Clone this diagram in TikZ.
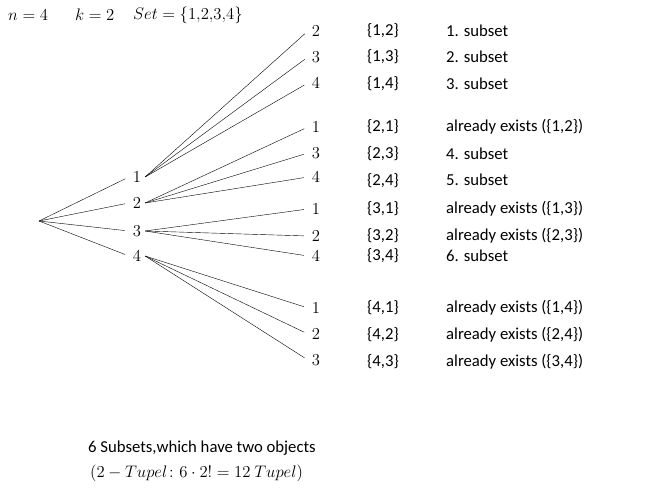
\documentclass[tikz,border=0pt]{standalone}
\usepackage{fix-cm}
\usepackage{amsmath}
\usepackage{fontspec}
\setmainfont{Carlito}
\usepackage{tikz}

\begin{document}
\begin{tikzpicture}[x=1bp, y=-1bp, font=\fontsize{16.7bp}{19bp}\selectfont,
  num/.style = {inner sep=1.5bp, outer xsep=2.5bp},
  txt/.style = {anchor=west, inner sep=0pt}]
	\useasboundingbox (0,0) rectangle (654,488);
	% header
	\node[txt] (hn) at (8, 15){$n=4$};
	\node[txt] (hk) at (75, 15){$k=2$};
	\node[txt] (hs) at (133, 15){$Set=\{1{,}2{,}3{,}4\}$};
	% root and first level
	\coordinate (R) at (39, 221);
	\node[num] (A) at (137, 177){$1$};
	\node[num] (B) at (137, 203){$2$};
	\node[num] (C) at (137, 231){$3$};
	\node[num] (D) at (137, 256){$4$};
	\draw[-, shorten >=4bp] (R) -- (A.west);
	\draw[-, shorten >=4bp] (R) -- (B.west);
	\draw[-, shorten >=4bp] (R) -- (C.west);
	\draw[-, shorten >=4bp] (R) -- (D.west);
	% second level
	\node[num] (A2) at (316, 31){$2$};
	\node[num] (A3) at (316, 57){$3$};
	\node[num] (A4) at (316, 83){$4$};
	\node[num] (B1) at (316, 127){$1$};
	\node[num] (B3) at (316, 153){$3$};
	\node[num] (B4) at (316, 177){$4$};
	\node[num] (C1) at (316, 209){$1$};
	\node[num] (C2) at (316, 236){$2$};
	\node[num] (C4) at (316, 256){$4$};
	\node[num] (D1) at (316, 308){$1$};
	\node[num] (D2) at (316, 334){$2$};
	\node[num] (D3) at (316, 360){$3$};
	\draw[-, shorten >=4bp] (A.east) -- (A2.west);
	\draw[-, shorten >=4bp] (A.east) -- (A3.west);
	\draw[-, shorten >=4bp] (A.east) -- (A4.west);
	\draw[-, shorten >=4bp] (B.east) -- (B1.west);
	\draw[-, shorten >=4bp] (B.east) -- (B3.west);
	\draw[-, shorten >=4bp] (B.east) -- (B4.west);
	\draw[-, shorten >=4bp] (C.east) -- (C1.west);
	\draw[-, shorten >=4bp] (C.east) -- (C2.west);
	\draw[-, shorten >=4bp] (C.east) -- (C4.west);
	\draw[-, shorten >=4bp] (D.east) -- (D1.west);
	\draw[-, shorten >=4bp] (D.east) -- (D2.west);
	\draw[-, shorten >=4bp] (D.east) -- (D3.west);
	% pairs
	\node[txt] (sA2) at (367, 31){\{1,2\}};
	\node[txt] (sA3) at (367, 57){\{1,3\}};
	\node[txt] (sA4) at (367, 84){\{1,4\}};
	\node[txt] (sB1) at (367, 127){\{2,1\}};
	\node[txt] (sB3) at (367, 154){\{2,3\}};
	\node[txt] (sB4) at (367, 181){\{2,4\}};
	\node[txt] (sC1) at (367, 209){\{3,1\}};
	\node[txt] (sC2) at (367, 236){\{3,2\}};
	\node[txt] (sC4) at (367, 256){\{3,4\}};
	\node[txt] (sD1) at (367, 308){\{4,1\}};
	\node[txt] (sD2) at (367, 335){\{4,2\}};
	\node[txt] (sD3) at (367, 362){\{4,3\}};
	% remarks
	\node[txt] (rA2) at (446, 31){1. subset};
	\node[txt] (rA3) at (446, 57){2. subset};
	\node[txt] (rA4) at (446, 84){3. subset};
	\node[txt] (rB1) at (446, 127){already exists (\{1,2\})};
	\node[txt] (rB3) at (446, 154){4. subset};
	\node[txt] (rB4) at (446, 180){5. subset};
	\node[txt] (rC1) at (446, 209){already exists (\{1,3\})};
	\node[txt] (rC2) at (446, 236){already exists (\{2,3\})};
	\node[txt] (rC4) at (446, 256){6. subset};
	\node[txt] (rD1) at (446, 308){already exists (\{1,4\})};
	\node[txt] (rD2) at (446, 335){already exists (\{2,4\})};
	\node[txt] (rD3) at (446, 362){already exists (\{3,4\})};
	% summary
	\node[txt] (sum) at (88, 448){6 Subsets,which have two objects};
	\node[txt] (tup) at (90, 473){$(2-Tupel\colon 6\cdot 2!=12\ Tupel)$};
\end{tikzpicture}
\end{document}
